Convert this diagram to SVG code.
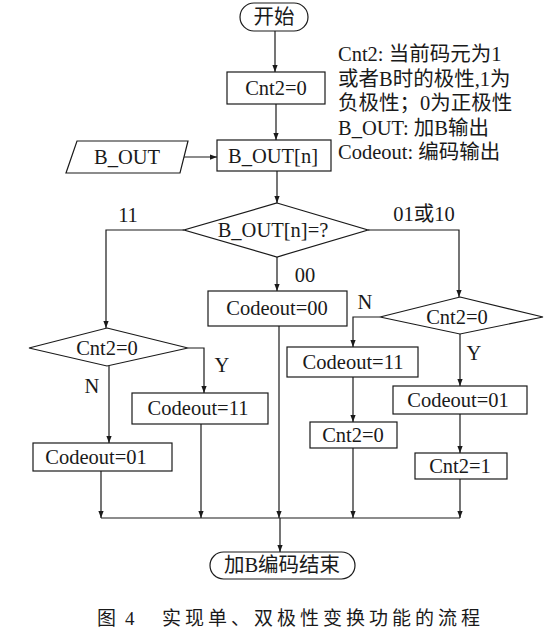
<svg xmlns="http://www.w3.org/2000/svg" width="556" height="636" viewBox="0 0 556 636">
<defs>
<marker id="arr" viewBox="0 0 8 8" refX="8" refY="4" markerWidth="7" markerHeight="7" markerUnits="userSpaceOnUse" orient="auto">
<path d="M0,1 L8,4 L0,7 Z" fill="#1a1a1a"/>
</marker>
<style>
.s{fill:#fff;stroke:#1a1a1a;stroke-width:1.2}
.c{fill:none;stroke:#1a1a1a;stroke-width:1.2}
.t{font-family:"Liberation Serif","Noto Sans CJK SC",serif;font-size:20.5px;fill:#1a1a1a;text-anchor:middle}
.n{font-family:"Liberation Serif","Noto Sans CJK SC",serif;font-size:20.5px;fill:#1a1a1a}
.cap{font-family:"Liberation Serif","Noto Sans CJK SC",serif;font-size:19px;fill:#1a1a1a}
</style>
</defs>
<rect width="556" height="636" fill="#fff"/>
<g id="connectors">
<path class="c" d="M275,31 V72" marker-end="url(#arr)"/>
<path class="c" d="M276,104 V140" marker-end="url(#arr)"/>
<path class="c" d="M183,157 H217" marker-end="url(#arr)"/>
<path class="c" d="M277,171 V203" marker-end="url(#arr)"/>
<path class="c" d="M184,230 H106 V328" marker-end="url(#arr)"/>
<path class="c" d="M368,230 H459 V297" marker-end="url(#arr)"/>
<path class="c" d="M277,257 V291" marker-end="url(#arr)"/>
<path class="c" d="M188,348 H204 V393" marker-end="url(#arr)"/>
<path class="c" d="M109,366 V443" marker-end="url(#arr)"/>
<path class="c" d="M201,424 V518" marker-end="url(#arr)"/>
<path class="c" d="M101,471 V518" marker-end="url(#arr)"/>
<path class="c" d="M279,326 V518" marker-end="url(#arr)"/>
<path class="c" d="M380,317 H353 V347" marker-end="url(#arr)"/>
<path class="c" d="M353,377 V422" marker-end="url(#arr)"/>
<path class="c" d="M353,448 V518" marker-end="url(#arr)"/>
<path class="c" d="M460,334 V386" marker-end="url(#arr)"/>
<path class="c" d="M460,414 V453" marker-end="url(#arr)"/>
<path class="c" d="M460,479 V518" marker-end="url(#arr)"/>
<path class="c" d="M101,518 H460"/>
<path class="c" d="M280,518 V552" marker-end="url(#arr)"/>
<text class="t" x="128" y="222">11</text>
<text class="t" x="424" y="221">01或10</text>
<text class="t" x="305" y="282">00</text>
<text class="t" x="365" y="309">N</text>
<text class="t" x="474" y="360">Y</text>
<text class="t" x="222" y="372">Y</text>
<text class="t" x="92" y="393">N</text>
</g>
<g id="start">
<rect class="s" x="240" y="3" width="68" height="28" rx="14"/>
<text class="t" x="274" y="24">开始</text>
</g>
<g id="init">
<rect class="s" x="227" y="72" width="98" height="32"/>
<text class="t" x="276" y="95">Cnt2=0</text>
</g>
<g id="input">
<polygon class="s" points="77,141 188,141 180,173 66,173"/>
<text class="t" x="127" y="164">B_OUT</text>
</g>
<g id="read">
<rect class="s" x="217" y="140" width="114" height="31"/>
<text class="t" x="273" y="163">B_OUT[n]</text>
</g>
<g id="decide">
<polygon class="s" points="277,203 368,230 277,257 184,230"/>
<text class="t" x="273" y="237">B_OUT[n]=?</text>
</g>
<g id="code00">
<rect class="s" x="208" y="291" width="139" height="35"/>
<text class="t" x="277" y="315">Codeout=00</text>
</g>
<g id="decideR">
<polygon class="s" points="460,297 543,317 460,334 380,317"/>
<text class="t" x="457" y="324">Cnt2=0</text>
</g>
<g id="code11R">
<rect class="s" x="287" y="347" width="131" height="30"/>
<text class="t" x="353" y="369">Codeout=11</text>
</g>
<g id="cnt0R">
<rect class="s" x="310" y="422" width="87" height="26"/>
<text class="t" x="353" y="442">Cnt2=0</text>
</g>
<g id="code01R">
<rect class="s" x="393" y="386" width="134" height="28"/>
<text class="t" x="458" y="407">Codeout=01</text>
</g>
<g id="cnt1R">
<rect class="s" x="415" y="453" width="92" height="26"/>
<text class="t" x="460" y="473">Cnt2=1</text>
</g>
<g id="decideL">
<polygon class="s" points="107,328 188,348 107,366 29,348"/>
<text class="t" x="107" y="355">Cnt2=0</text>
</g>
<g id="code11L">
<rect class="s" x="132" y="393" width="136" height="31"/>
<text class="t" x="198" y="415">Codeout=11</text>
</g>
<g id="code01L">
<rect class="s" x="33" y="443" width="139" height="28"/>
<text class="t" x="96" y="464">Codeout=01</text>
</g>
<g id="end">
<rect class="s" x="210" y="552" width="145" height="27" rx="13.5"/>
<text class="t" x="282" y="572">加B编码结束</text>
</g>
<g id="notes">
<text class="n" x="338" y="61">Cnt2: 当前码元为1</text>
<text class="n" x="338" y="85.5">或者B时的极性,1为</text>
<text class="n" x="338" y="110">负极性；0为正极性</text>
<text class="n" x="338" y="134.5">B_OUT: 加B输出</text>
<text class="n" x="338" y="159">Codeout: 编码输出</text>
</g>
<g id="caption">
<text class="cap" x="97" y="625">图</text>
<text class="cap" x="125" y="625">4</text>
<text class="cap" x="162" y="625" textLength="318" lengthAdjust="spacing">实现单、双极性变换功能的流程</text>
</g>
</svg>
